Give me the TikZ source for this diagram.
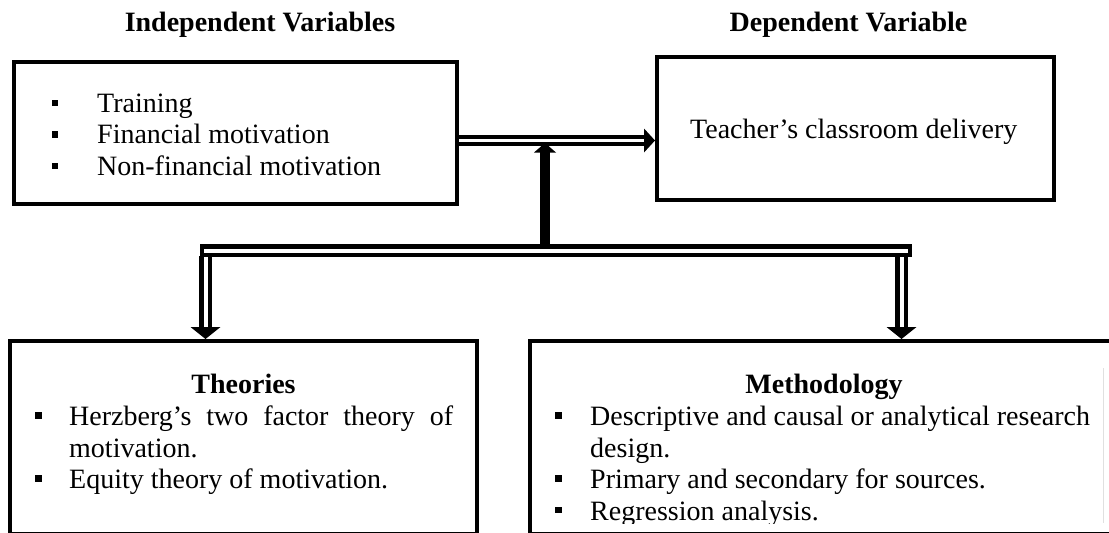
\documentclass[tikz,border=0pt]{standalone}
\usepackage{fontspec}
\setmainfont{Liberation Serif}
\begin{document}
\begin{tikzpicture}[x=1pt,y=-1pt,
  txt/.style={inner sep=0pt, anchor=base west, font=\fontsize{28}{31.5}\selectfont},
  ttl/.style={inner sep=0pt, anchor=base, font=\fontsize{28}{31.5}\selectfont\bfseries},
  box/.style={draw, line width=4pt, rectangle, inner sep=0pt},
  bul/.style={fill=black, inner sep=0pt, minimum size=6.5pt, rectangle},
  dblA/.style={draw, line width=4pt, double=white, double distance=3pt},
  dblB/.style={draw, line width=4.5pt, double=white, double distance=4pt},
  thick10/.style={draw, line width=10pt}
]
\useasboundingbox (0,0) rectangle (1109,533);

% titles
\node[ttl] (tiv) at (260,31) {Independent Variables};
\node[ttl] (tdv) at (848.5,31) {Dependent Variable};

% boxes
\node[box, minimum width=443pt, minimum height=142pt] (iv) at (235.5,133) {};
\node[box, minimum width=397pt, minimum height=143pt] (dv) at (855.5,128.5) {};
\node[box, minimum width=467pt, minimum height=193pt] (th) at (243.5,437.5) {};
\node[box, minimum width=590pt, minimum height=193pt] (me) at (825,437.5) {};

% independent variables
\node[bul] (b1) at (55,103) {};
\node[bul] (b2) at (55,134.5) {};
\node[bul] (b3) at (55,166) {};
\node[txt] (l1) at (97,112) {Training};
\node[txt] (l2) at (97,143.5) {Financial motivation};
\node[txt] (l3) at (97,175) {Non-financial motivation};

% dependent variable
\node[txt] (dvt) at (690,138) {Teacher’s classroom delivery};

% theories
\node[ttl] (tth) at (243.5,393) {Theories};
\node[bul] (tb1) at (38.5,415.5) {};
\node[bul] (tb2) at (38.5,478.5) {};
\node[txt] (h1) at (69,425) {\makebox[384pt][s]{Herzberg’s two factor theory of}};
\node[txt] (h2) at (69,457) {motivation.};
\node[txt] (h3) at (69,488) {Equity theory of motivation.};

% methodology
\node[ttl] (tme) at (824,393) {Methodology};
\node[bul] (mb1) at (558.5,415.5) {};
\node[bul] (mb2) at (558.5,478.5) {};
\node[bul] (mb3) at (558.5,510) {};
\node[txt] (m1) at (590,425) {Descriptive and causal or analytical research};
\node[txt] (m2) at (590,457) {design.};
\node[txt] (m3) at (590,488) {Primary and secondary for sources.};
\begin{scope}
  \clip (530,495) rectangle (1109,523.5);
  \node[txt] (m4) at (590,520) {Regression analysis.};
\end{scope}
\draw[black!12, line width=1pt] (1103,368) -- (1103,523);

% connectors
\coordinate (hy) at (0,140.5);
\draw[dblA, shorten >=9pt] (iv.east |- hy) -- (dv.west |- hy);
\fill (dv.west |- hy) -- ++(-11,-12) -- ++(0,24) -- cycle;

\coordinate (upb) at (545,250.5);
\coordinate (j) at (545,143);
\draw[thick10, shorten >=9pt] (upb) -- (j);
\fill (j) -- ++(-11,9.5) -- ++(22,0) -- cycle;

\coordinate (vl) at (205.5,256);
\coordinate (vr) at (901.5,256);
\draw[dblB, shorten >=10pt] (vl) -- (vl |- th.north);
\fill (vl |- th.north) -- ++(-15,-12) -- ++(30,0) -- cycle;
\draw[dblB, shorten >=10pt] (vr) -- (vr |- me.north);
\fill (vr |- me.north) -- ++(-15,-12) -- ++(30,0) -- cycle;

\coordinate (bl) at (206,250.5);
\coordinate (br) at (905.5,250.5);
\draw[dblB, line cap=rect] (bl) -- (br);
\end{tikzpicture}
\end{document}
